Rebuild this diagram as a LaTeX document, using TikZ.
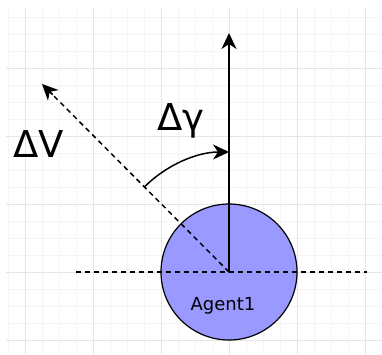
\documentclass[tikz,border=0pt]{standalone}
\usepackage{fontspec}
\setmainfont{DejaVu Sans}
\usetikzlibrary{angles,arrows.meta}

\definecolor{agentfill}{RGB}{153,153,255}
\definecolor{gridminor}{RGB}{245,245,245}
\definecolor{gridmajor}{RGB}{229,229,229}

\tikzset{
  bigtip/.tip={Stealth[length=16pt,width=15pt,inset=5pt]},
  vecline/.style={line width=1.5pt,-bigtip},
  dashline/.style={line width=1.5pt,dash pattern=on 5pt off 4pt},
}

\begin{document}
\begin{tikzpicture}[x=1pt,y=1pt]
\useasboundingbox (0,0) rectangle (382,354);
% background grid
\foreach \k in {-13,...,9}
  \draw[gridminor,line width=0.8pt] (229+17*\k,0) -- (229+17*\k,346);
\foreach \k in {-4,...,15}
  \draw[gridminor,line width=0.8pt] (6,82+17*\k) -- (382,82+17*\k);
\foreach \k in {-3,...,2}
  \draw[gridmajor,line width=0.8pt] (229+68*\k,0) -- (229+68*\k,346);
\foreach \k in {-1,...,3}
  \draw[gridmajor,line width=0.8pt] (6,82+68*\k) -- (382,82+68*\k);

\coordinate (c) at (229,82);
\coordinate (top) at (229,321);
\coordinate (dv) at (42,270);
\coordinate (hl) at (76,82);
\coordinate (hr) at (367,82);

\node[circle,draw,line width=1.2pt,fill=agentfill,minimum size=136pt,
      inner sep=0pt] (agent) at (c) {};
\node[font=\fontsize{18}{20}\selectfont] (name) at (223,48) {Agent1};

\draw[dashline] (hl) -- (hr);
\draw[dashline,shorten >=8pt] (c) -- (dv);
\draw[vecline,shorten <=250pt] (c) -- (dv);
\draw[vecline] (c) -- (top);
\draw pic[draw, line width=1.5pt, bigtip-, angle radius=120pt]
     {angle=top--c--dv};

\node[font=\fontsize{37}{40}\selectfont] (dvlabel) at (39,210) {ΔV};
\node[font=\fontsize{37}{40}\selectfont,anchor=base west,inner sep=0pt]
     (dglabel) at (157,224) {Δγ};
\end{tikzpicture}
\end{document}
